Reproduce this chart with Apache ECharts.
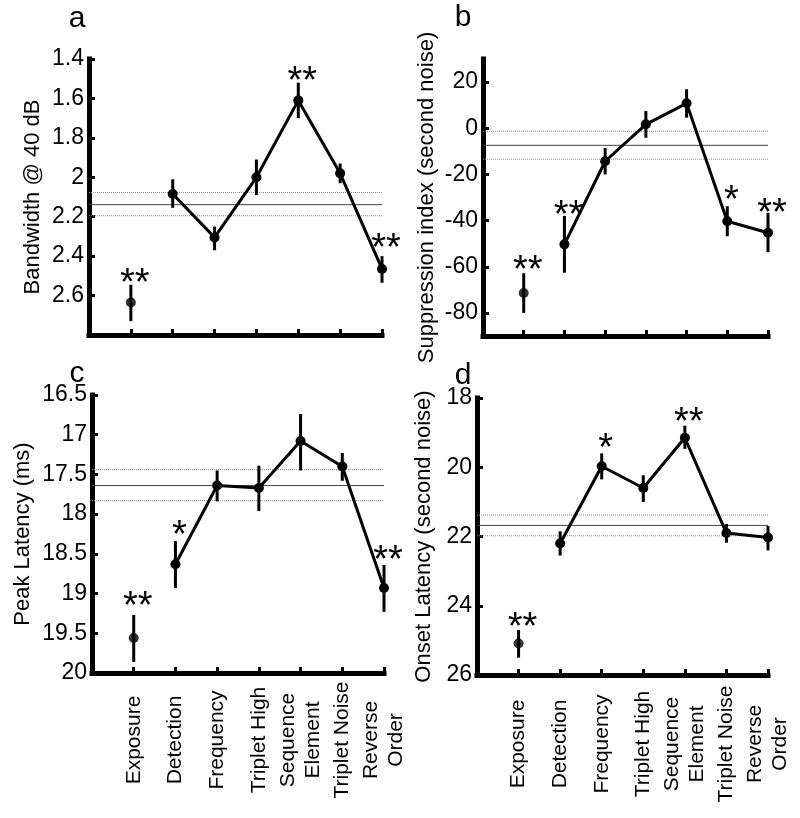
<!DOCTYPE html>
<html>
<head>
<meta charset="utf-8">
<script src="https://cdn.jsdelivr.net/npm/echarts@6/dist/echarts.min.js"></script>
<style>html,body{margin:0;padding:0;background:#fff}#c{width:800px;height:818px}</style>
</head>
<body>
<div id="c"></div>
<script>
// ---- data ----
var categories = ['Exposure', 'Detection', 'Frequency', 'Triplet High', 'Sequence\nElement', 'Triplet Noise', 'Reverse\nOrder'];

// a: Bandwidth @ 40 dB
var bwMean = [2.635, 2.085, 2.305, 2.0, 1.61, 1.98, 2.465];
var bwLow  = [2.545, 2.01, 2.25, 1.91, 1.52, 1.93, 2.40];
var bwHigh = [2.73, 2.155, 2.37, 2.09, 1.70, 2.03, 2.535];
var bwRef  = [2.077, 2.139, 2.195];
var bwStars = ['**', '', '', '', '**', '', '**'];
var bwStarY = [2.50, null, null, null, 1.475, null, 2.32];
var bwTicks = [1.4, 1.6, 1.8, 2, 2.2, 2.4, 2.6];

// b: Suppression index (second noise)
var siMean = [-71.4, -50.3, -14.3, 1.7, 10.8, -40.3, -45.3];
var siLow  = [-80, -62.6, -20, -4.1, 4.6, -46.8, -53.7];
var siHigh = [-62.8, -38, -8.6, 7.5, 16.9, -33.8, -36.6];
var siRef  = [-1.3, -7.4, -13.4];
var siStars = ['**', '**', '', '', '', '*', '**'];
var siStarY = [-58, -34.2, null, null, null, -27.7, -33.3];
var siTicks = [-80, -60, -40, -20, 0, 20];

// c: Peak Latency (ms)
var plMean = [19.56, 18.63, 17.64, 17.67, 17.08, 17.40, 18.93];
var plLow  = [19.27, 18.34, 17.45, 17.39, 16.74, 17.23, 18.64];
var plHigh = [19.86, 18.93, 17.84, 17.96, 17.45, 17.58, 19.23];
var plRef  = [17.44, 17.64, 17.83];
var plStars = ['**', '*', '', '', '', '', '**'];
var plStarY = [19.06, 18.17, null, null, null, null, 18.48];
var plTicks = [16.5, 17, 17.5, 18, 18.5, 19, 19.5, 20];

// d: Onset Latency (second noise)
var olMean = [25.09, 22.2, 19.97, 20.6, 19.15, 21.9, 22.03];
var olLow  = [24.7, 21.85, 19.6, 20.23, 18.8, 21.64, 21.7];
var olHigh = [25.5, 22.55, 20.35, 21.0, 19.47, 22.18, 22.4];
var olRef  = [21.38, 21.68, 21.98];
var olStars = ['**', '', '*', '', '**', '', ''];
var olStarY = [24.41, null, 19.24, null, 18.49, null, null];
var olTicks = [18, 20, 22, 24, 26];

// ---- chart ----
var FONT = 'Liberation Sans';
var panels = [
  {mean: bwMean, low: bwLow, high: bwHigh, ref: bwRef, stars: bwStars, starY: bwStarY, ticks: bwTicks,
   min: 1.4, max: 2.8, inverse: true, name: 'Bandwidth @ 40 dB', nameGap: 45, showX: false,
   grid: {left: 89, right: 418, top: 59, bottom: 483}, letter: 'a', lx: 77, ly: 19},
  {mean: siMean, low: siLow, high: siHigh, ref: siRef, stars: siStars, starY: siStarY, ticks: siTicks,
   min: -90, max: 30, inverse: false, name: 'Suppression index (second noise)', nameGap: 45, showX: false,
   grid: {left: 483, right: 32, top: 59, bottom: 482}, letter: 'b', lx: 463, ly: 18},
  {mean: plMean, low: plLow, high: plHigh, ref: plRef, stars: plStars, starY: plStarY, ticks: plTicks,
   min: 16.5, max: 20, inverse: true, name: 'Peak Latency (ms)', nameGap: 58, showX: true, labelMargin: 67,
   grid: {left: 92, right: 416, top: 395, bottom: 145}, letter: 'c', lx: 77, ly: 374},
  {mean: olMean, low: olLow, high: olHigh, ref: olRef, stars: olStars, starY: olStarY, ticks: olTicks,
   min: 18, max: 26, inverse: true, name: 'Onset Latency (second noise)', nameGap: 42, showX: true, labelMargin: 69,
   grid: {left: 477, right: 32, top: 398, bottom: 143}, letter: 'd', lx: 463, ly: 376}
];

var option = {
  animation: false,
  backgroundColor: '#fff',
  textStyle: {fontFamily: FONT, color: '#000'},
  grid: [], xAxis: [], yAxis: [], series: [], graphic: []
};

panels.forEach(function (p, gi) {
  option.grid.push(p.grid);
  option.xAxis.push({
    gridIndex: gi, type: 'value', min: 0, max: 7, interval: 1,
    axisLine: {show: true, onZero: false, lineStyle: {color: '#000', width: 5, cap: 'square'}},
    axisTick: {show: true, inside: true, length: 6, lineStyle: {color: '#000', width: 3}},
    splitLine: {show: false},
    axisLabel: {
      show: p.showX, rotate: 90, align: 'center', verticalAlign: 'middle',
      margin: p.labelMargin || 60, fontSize: 21, lineHeight: 25, color: '#000', fontFamily: FONT,
      formatter: function (v) { return (v >= 1 && v <= 7) ? categories[v - 1] : ''; }
    }
  });
  option.yAxis.push({
    gridIndex: gi, type: 'value', min: p.min, max: p.max, inverse: p.inverse,
    axisLine: {show: true, onZero: false, lineStyle: {color: '#000', width: 5, cap: 'square'}},
    axisTick: {show: true, inside: true, length: 6, lineStyle: {color: '#000', width: 3}, customValues: p.ticks},
    axisLabel: {customValues: p.ticks, fontSize: 23, color: '#000', margin: 5, fontFamily: FONT},
    splitLine: {show: false},
    name: p.name, nameLocation: 'middle', nameGap: p.nameGap,
    nameTextStyle: {fontSize: 22, color: '#000', fontFamily: FONT}
  });

  // reference lines
  p.ref.forEach(function (r, k) {
    option.series.push({
      type: 'line', xAxisIndex: gi, yAxisIndex: gi, silent: true, symbol: 'none', z: 1,
      data: [[0, r], [7, r]],
      lineStyle: k === 1 ? {color: '#444', width: 1, type: 'solid'} : {color: '#888', width: 1, type: [1, 1]}
    });
  });

  // error bars
  option.series.push({
    type: 'custom', xAxisIndex: gi, yAxisIndex: gi, z: 3,
    data: p.mean.map(function (m, i) { return [i + 1, p.low[i], p.high[i]]; }),
    renderItem: function (params, api) {
      var a = api.coord([api.value(0), api.value(1)]);
      var b = api.coord([api.value(0), api.value(2)]);
      return {type: 'line', shape: {x1: a[0], y1: a[1], x2: b[0], y2: b[1]},
              style: {stroke: '#000', lineWidth: 3}};
    }
  });

  // connected line (Detection .. Reverse Order)
  option.series.push({
    type: 'line', xAxisIndex: gi, yAxisIndex: gi, z: 4,
    data: p.mean.slice(1).map(function (m, i) { return [i + 2, m]; }),
    symbol: 'circle', symbolSize: 10, showSymbol: true,
    itemStyle: {color: '#000'}, lineStyle: {color: '#000', width: 3}
  });

  // Exposure point
  option.series.push({
    type: 'scatter', xAxisIndex: gi, yAxisIndex: gi, z: 4,
    data: [[1, p.mean[0]]], symbol: 'circle', symbolSize: 10, itemStyle: {color: '#000'}
  });

  // significance stars
  var sd = [];
  p.stars.forEach(function (s, i) { if (s) sd.push([i + 1, p.starY[i], i]); });
  var starsArr = p.stars;
  option.series.push({
    type: 'custom', xAxisIndex: gi, yAxisIndex: gi, z: 5, clip: false,
    data: sd,
    renderItem: function (params, api) {
      var c = api.coord([api.value(0), api.value(1)]);
      var idx = api.value(2);
      return {type: 'text', style: {text: starsArr[idx], x: c[0] + 4, y: c[1] + 9,
        align: 'center', verticalAlign: 'middle', textAlign: 'center', textVerticalAlign: 'middle',
        font: '38px "' + FONT + '"', fill: '#000'}};
    }
  });
});

// panel letters
option.graphic = panels.map(function (p) {
  return {type: 'text', x: p.lx, y: p.ly, silent: true,
    style: {text: p.letter, font: '30px "' + FONT + '"', fill: '#000',
            align: 'center', verticalAlign: 'middle'}};
});

var chart = echarts.init(document.getElementById('c'), null, {renderer: 'canvas'});
chart.setOption(option);
</script>
</body>
</html>
